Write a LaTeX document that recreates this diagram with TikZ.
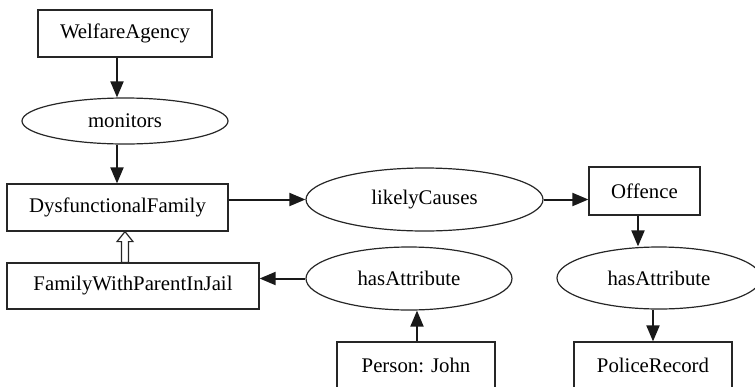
\documentclass[tikz,border=0pt]{standalone}
\usepackage{fontspec}
\setmainfont{Liberation Serif}
\usetikzlibrary{shapes.geometric,arrows.meta,calc}
\begin{document}
\begin{tikzpicture}[x=1pt,y=-1pt,
  every node/.style={font=\fontsize{20.8}{25}\selectfont, inner sep=0pt, line width=1.2pt, draw=black!85},
  box/.style={rectangle},
  oval/.style={ellipse},
  arr/.style={line width=2pt, draw=black!90, -{Triangle[length=16pt,width=13pt]}}]
\useasboundingbox (0,0) rectangle (755,386);
\node[box, minimum width=174, minimum height=47] (WA) at (125,33.5) {WelfareAgency};
\node[oval, minimum width=206, minimum height=46] (mon) at (125,121) {monitors};
\node[box, minimum width=221, minimum height=47] (DF) at (117.5,207.5) {DysfunctionalFamily};
\node[oval, minimum width=237, minimum height=63] (lc) at (424.5,199.5) {likelyCauses};
\node[box, minimum width=111, minimum height=48] (Off) at (644.5,191) {Offence};
\node[box, minimum width=252, minimum height=46] (FW) at (133,286) {FamilyWithParentInJail};
\node[oval, minimum width=206, minimum height=63] (ha1) at (409,278.5) {hasAttribute};
\node[oval, minimum width=204, minimum height=62] (ha2) at (659,278) {hasAttribute};
\node[box, minimum width=158, minimum height=47] (PJ) at (416,365.5) {Person: John};
\node[box, minimum width=158, minimum height=47] (PR) at (653,365.5) {PoliceRecord};
% connectors
\draw[arr] ([xshift=-8]WA.south) -- ([xshift=-8]WA.south |- mon.north);
\draw[arr] ([xshift=-8]mon.south) -- ([xshift=-8]mon.south |- DF.north);
\draw[arr] (DF.east |- lc.west) -- (lc.west);
\draw[arr] (lc.east) -- (lc.east -| Off.west);
\draw[arr] ([xshift=-6.5]Off.south) -- ([xshift=-6.5]Off.south |- ha2.north);
\draw[arr] ([xshift=-6]ha2.south) -- ([xshift=-6]ha2.south |- PR.north);
\draw[arr] ([xshift=1]PJ.north) -- ([xshift=1]PJ.north |- ha1.south);
\draw[arr] (ha1.west) -- (ha1.west -| FW.east);
% hollow inheritance arrow
\coordinate (tip) at ([xshift=-8]FW.north |- DF.south);
\coordinate (base) at ([xshift=-8]FW.north);
\draw[line width=1.2pt, draw=black!85, fill=white, line join=miter]
  (tip) -- ($(tip)+(8,10)$) -- ($(tip)+(3.5,10)$) -- ($(base)+(3.5,0)$)
  -- ($(base)+(-3.5,0)$) -- ($(tip)+(-3.5,10)$) -- ($(tip)+(-8,10)$) -- cycle;
\end{tikzpicture}
\end{document}
